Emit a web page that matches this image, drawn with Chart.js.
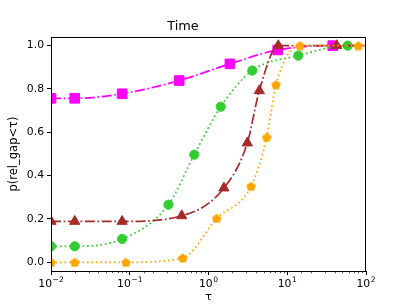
<!DOCTYPE html>
<html>
<head>
<meta charset="utf-8">
<script src="https://cdn.jsdelivr.net/npm/chart.js@4/dist/chart.umd.min.js"></script>
<style>
  html, body { margin: 0; padding: 0; background: #fff; }
  #wrap { width: 407px; height: 305px; }
</style>
</head>
<body>
<div id="wrap"><canvas id="chart" width="407" height="305"></canvas></div>
<script>
// values
const tauMagenta = [0.01, 0.02, 0.08, 0.425, 1.87, 7.57, 37.8];
const pMagenta   = [0.757, 0.757, 0.778, 0.839, 0.916, 0.980, 1.0];

const tauGreen = [0.01, 0.02, 0.08, 0.31, 0.66, 1.43, 3.6, 13.8, 58.6];
const pGreen   = [0.074, 0.074, 0.108, 0.266, 0.497, 0.718, 0.885, 0.954, 1.0];

const tauBrown = [0.01, 0.02, 0.08, 0.457, 1.57, 3.11, 4.42, 7.69, 42.5];
const pBrown   = [0.189, 0.189, 0.189, 0.215, 0.343, 0.551, 0.792, 1.0, 1.0];

const tauOrange = [0.01, 0.02, 0.0895, 0.47, 1.27, 3.47, 5.48, 7.2, 14.5, 79.8];
const pOrange   = [0, 0, 0, 0.02, 0.203, 0.351, 0.577, 0.820, 1.0, 1.0];

// every line runs on to the right edge at 1.0
const endTau = 100;
const endP = 1.0;

// x tick labels: base 10 and the exponent
const xTickValues = [0.01, 0.1, 1, 10, 100];
const xTickExps = ['\u22122', '\u22121', '0', '1', '2'];

const FONT = 'DejaVu Sans';
const TICK_SIZE = 10.8;

function isMajor(v) {
  return xTickValues.some(m => Math.abs(m - v) / m < 1e-6);
}

function pentagon(color, size) {
  const c = document.createElement('canvas');
  c.width = size; c.height = size;
  const g = c.getContext('2d');
  const r = size / 2;
  g.beginPath();
  for (let i = 0; i < 5; i++) {
    const a = -Math.PI / 2 + i * 2 * Math.PI / 5;
    const px = r + r * Math.cos(a), py = r + 0.5 + r * Math.sin(a);
    if (i === 0) g.moveTo(px, py); else g.lineTo(px, py);
  }
  g.closePath();
  g.fillStyle = color;
  g.fill();
  return c;
}

function series(taus, ps, color, style, radius, dash, order) {
  const pts = taus.map((t, i) => ({ x: t, y: ps[i] }));
  pts.push({ x: endTau, y: endP });
  const last = pts.length - 1;
  return {
    data: pts,
    borderColor: color,
    backgroundColor: color,
    pointBorderColor: color,
    borderWidth: 1.7,
    borderDash: dash,
    pointStyle: style,
    pointRadius: ctx => ctx.dataIndex === last ? 0 : radius,
    pointBorderWidth: 1,
    cubicInterpolationMode: 'monotone',
    clip: 0,
    order: order
  };
}

const frame = {
  id: 'frame',
  afterDatasetsDraw(chart) {
    const { ctx, chartArea: a } = chart;
    const xs = chart.scales.x;
    ctx.save();
    ctx.strokeStyle = '#000';
    ctx.lineWidth = 1;
    ctx.strokeRect(a.left + 0.5, a.top + 0.5, a.right - a.left - 1, a.bottom - a.top);
    // minor ticks on the log axis
    ctx.lineWidth = 0.7;
    xs.ticks.forEach(t => {
      if (isMajor(t.value)) return;
      const px = Math.round(xs.getPixelForValue(t.value)) + 0.5;
      ctx.beginPath();
      ctx.moveTo(px, a.bottom);
      ctx.lineTo(px, a.bottom + 2.2);
      ctx.stroke();
    });
    // 10^n labels, mathtext style
    ctx.fillStyle = '#000';
    ctx.textBaseline = 'alphabetic';
    ctx.textAlign = 'left';
    const base = a.bottom + 16;
    const supSize = TICK_SIZE * 0.7;
    xTickValues.forEach((v, i) => {
      const cx = xs.getPixelForValue(v);
      ctx.font = TICK_SIZE + 'px "' + FONT + '"';
      const wb = ctx.measureText('10').width;
      ctx.font = supSize + 'px "' + FONT + '"';
      const we = ctx.measureText(xTickExps[i]).width;
      const x0 = cx - (wb + 0.5 + we) / 2;
      ctx.font = TICK_SIZE + 'px "' + FONT + '"';
      ctx.fillText('10', x0, base);
      ctx.font = supSize + 'px "' + FONT + '"';
      ctx.fillText(xTickExps[i], x0 + wb + 0.5, base - 5.2);
    });
    ctx.restore();
  }
};

new Chart(document.getElementById('chart'), {
  type: 'line',
  data: {
    datasets: [
      series(tauMagenta, pMagenta, '#ff00ff', 'rect', 6.8, [10, 2.6, 1.7, 2.6], 4),
      series(tauGreen, pGreen, '#32cd32', 'circle', 4.6, [1.7, 2.8], 3),
      series(tauBrown, pBrown, '#a52a2a', 'triangle', 5.9, [10, 2.6, 1.7, 2.6], 2),
      series(tauOrange, pOrange, '#ffa500', pentagon('#ffa500', 10), 5, [1.7, 2.8], 1)
    ]
  },
  options: {
    responsive: false,
    animation: false,
    layout: { padding: { left: 0, right: 41, top: 0, bottom: 0 } },
    plugins: {
      legend: { display: false },
      tooltip: { enabled: false },
      title: {
        display: true,
        text: 'Time',
        color: '#000',
        font: { family: FONT, size: 12.9, weight: 'normal' },
        padding: { top: 18.8, bottom: 2.7 }
      }
    },
    scales: {
      x: {
        type: 'logarithmic',
        min: 0.01,
        max: 100,
        afterFit: s => { s.height = 34; },
        border: { display: false },
        grid: {
          drawOnChartArea: false,
          drawTicks: true,
          tickLength: 4,
          tickColor: ctx => isMajor(ctx.tick ? ctx.tick.value : 1) ? '#000' : 'rgba(0,0,0,0)'
        },
        ticks: {
          autoSkip: false,
          maxRotation: 0,
          padding: 2,
          color: '#000',
          font: { family: FONT, size: TICK_SIZE },
          callback: () => ''
        },
        title: {
          display: true,
          text: 'τ',
          color: '#000',
          font: { family: FONT, size: 11 },
          padding: { top: 0, bottom: 1.5 }
        }
      },
      y: {
        min: -0.04,
        max: 1.04,
        afterFit: s => { s.width = 51; },
        border: { display: false },
        grid: {
          drawOnChartArea: false,
          drawTicks: true,
          tickLength: 4,
          tickColor: '#000'
        },
        ticks: {
          stepSize: 0.2,
          includeBounds: false,
          padding: 3,
          color: '#000',
          font: { family: FONT, size: TICK_SIZE },
          callback: v => v.toFixed(1)
        },
        title: {
          display: true,
          text: 'p(rel_gap<τ)',
          color: '#000',
          font: { family: FONT, size: 11.5 },
          padding: { top: 7, bottom: 0 }
        }
      }
    }
  },
  plugins: [frame]
});
</script>
</body>
</html>
